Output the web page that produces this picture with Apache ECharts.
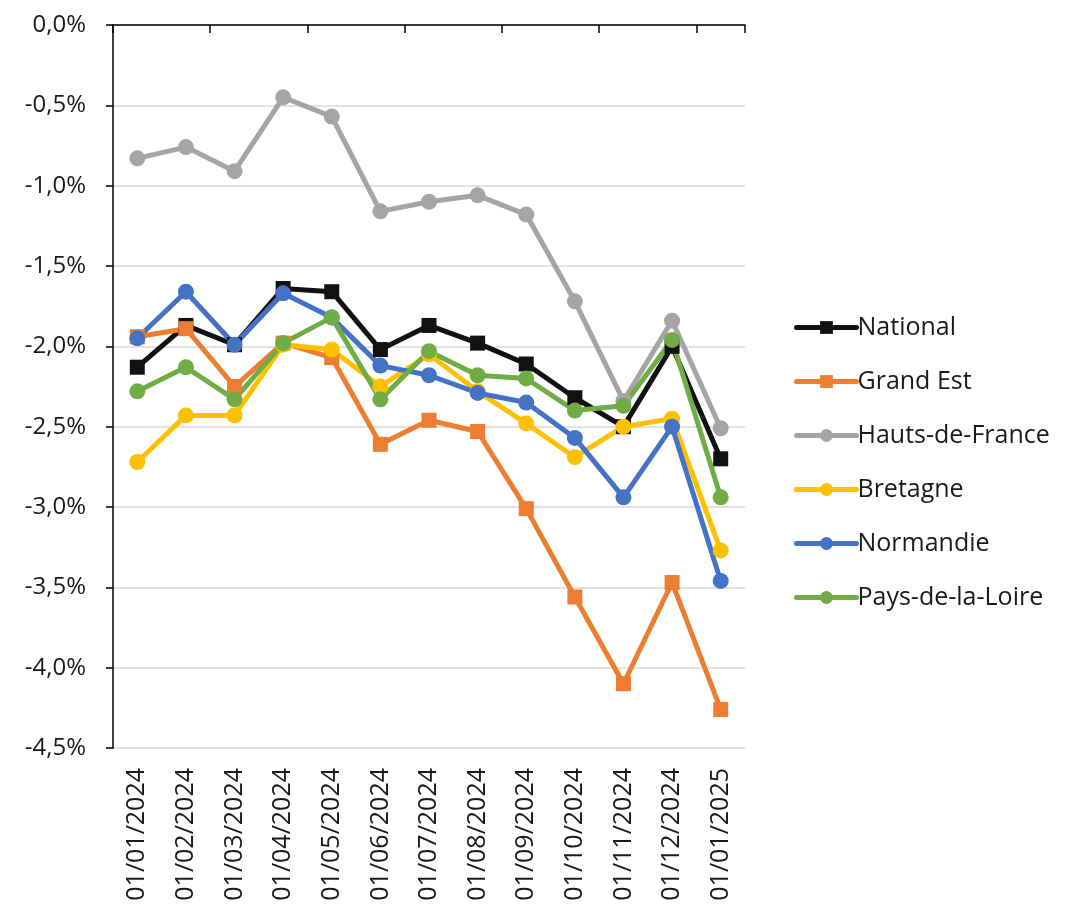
<!DOCTYPE html>
<html>
<head>
<meta charset="utf-8">
<script src="https://cdn.jsdelivr.net/npm/echarts@6/dist/echarts.min.js"></script>
<style>
  html, body { margin: 0; padding: 0; background: #fff; }
  #chart { width: 1068px; height: 909px; }
</style>
</head>
<body>
<div id="chart"></div>
<script>
const dates = ['01/01/2024', '01/02/2024', '01/03/2024', '01/04/2024', '01/05/2024', '01/06/2024',
  '01/07/2024', '01/08/2024', '01/09/2024', '01/10/2024', '01/11/2024', '01/12/2024', '01/01/2025'];

const national = [-2.13, -1.87, -1.99, -1.64, -1.66, -2.02, -1.87, -1.98, -2.11, -2.32, -2.50, -2.00, -2.70];
const grandEst = [-1.94, -1.89, -2.25, -1.98, -2.07, -2.61, -2.46, -2.53, -3.01, -3.56, -4.10, -3.47, -4.26];
const hautsDeFrance = [-0.83, -0.76, -0.91, -0.45, -0.57, -1.16, -1.10, -1.06, -1.18, -1.72, -2.34, -1.84, -2.51];
const bretagne = [-2.72, -2.43, -2.43, -1.99, -2.02, -2.25, -2.05, -2.28, -2.48, -2.69, -2.50, -2.45, -3.27];
const normandie = [-1.95, -1.66, -1.99, -1.67, -1.82, -2.12, -2.18, -2.29, -2.35, -2.57, -2.94, -2.50, -3.46];
const paysDeLaLoire = [-2.28, -2.13, -2.33, -1.98, -1.82, -2.33, -2.03, -2.18, -2.20, -2.40, -2.37, -1.96, -2.94];

const font = '"Open Sans", "Noto Sans", sans-serif';

function line(name, data, color, symbol) {
  return {
    name: name,
    type: 'line',
    data: data,
    symbol: symbol,
    symbolSize: symbol === 'rect' ? 15 : 16,
    lineStyle: { color: color, width: 5 },
    itemStyle: { color: color },
    emphasis: { disabled: true }
  };
}

const chart = echarts.init(document.getElementById('chart'));
chart.setOption({
  animation: false,
  grid: { left: 113, right: 323, top: 25, bottom: 161 },
  legend: {
    orient: 'vertical',
    left: 789,
    top: 310,
    itemWidth: 60,
    itemHeight: 16,
    itemGap: 29,
    lineStyle: { width: 5, cap: 'round' },
    textStyle: { fontFamily: font, fontSize: 25, color: '#1a1a1a', padding: [0, 0, 0, -4] },
    data: ['National', 'Grand Est', 'Hauts-de-France', 'Bretagne', 'Normandie', 'Pays-de-la-Loire']
  },
  xAxis: [
    {
      type: 'category',
      data: dates,
      position: 'top',
      axisLine: { show: true, lineStyle: { color: '#000', width: 1.5 } },
      axisTick: { show: true, inside: true, length: 8, lineStyle: { color: '#000', width: 1.5 } },
      axisLabel: { show: false }
    },
    {
      type: 'category',
      data: dates,
      position: 'bottom',
      axisLine: { show: false },
      axisTick: { show: false },
      axisLabel: {
        rotate: 90,
        margin: 20,
        fontFamily: font,
        fontSize: 25,
        color: '#1a1a1a',
        interval: 0
      }
    }
  ],
  yAxis: {
    type: 'value',
    min: -4.5,
    max: 0,
    interval: 0.5,
    axisLine: { show: true, onZero: false, lineStyle: { color: '#000', width: 1.5 } },
    axisTick: { show: true, length: 7, lineStyle: { color: '#000', width: 1.5 } },
    splitLine: { show: true, lineStyle: { color: '#d9d9d9', width: 1.5 } },
    axisLabel: {
      margin: 27,
      fontFamily: font,
      fontSize: 24,
      color: '#1a1a1a',
      formatter: function (v) { return v.toFixed(1).replace('.', ',') + '%'; }
    }
  },
  series: [
    line('National', national, '#111111', 'rect'),
    line('Grand Est', grandEst, '#ed7d31', 'rect'),
    line('Hauts-de-France', hautsDeFrance, '#a5a5a5', 'circle'),
    line('Bretagne', bretagne, '#ffc000', 'circle'),
    line('Normandie', normandie, '#4472c4', 'circle'),
    line('Pays-de-la-Loire', paysDeLaLoire, '#70ad47', 'circle')
  ]
});
</script>
</body>
</html>
